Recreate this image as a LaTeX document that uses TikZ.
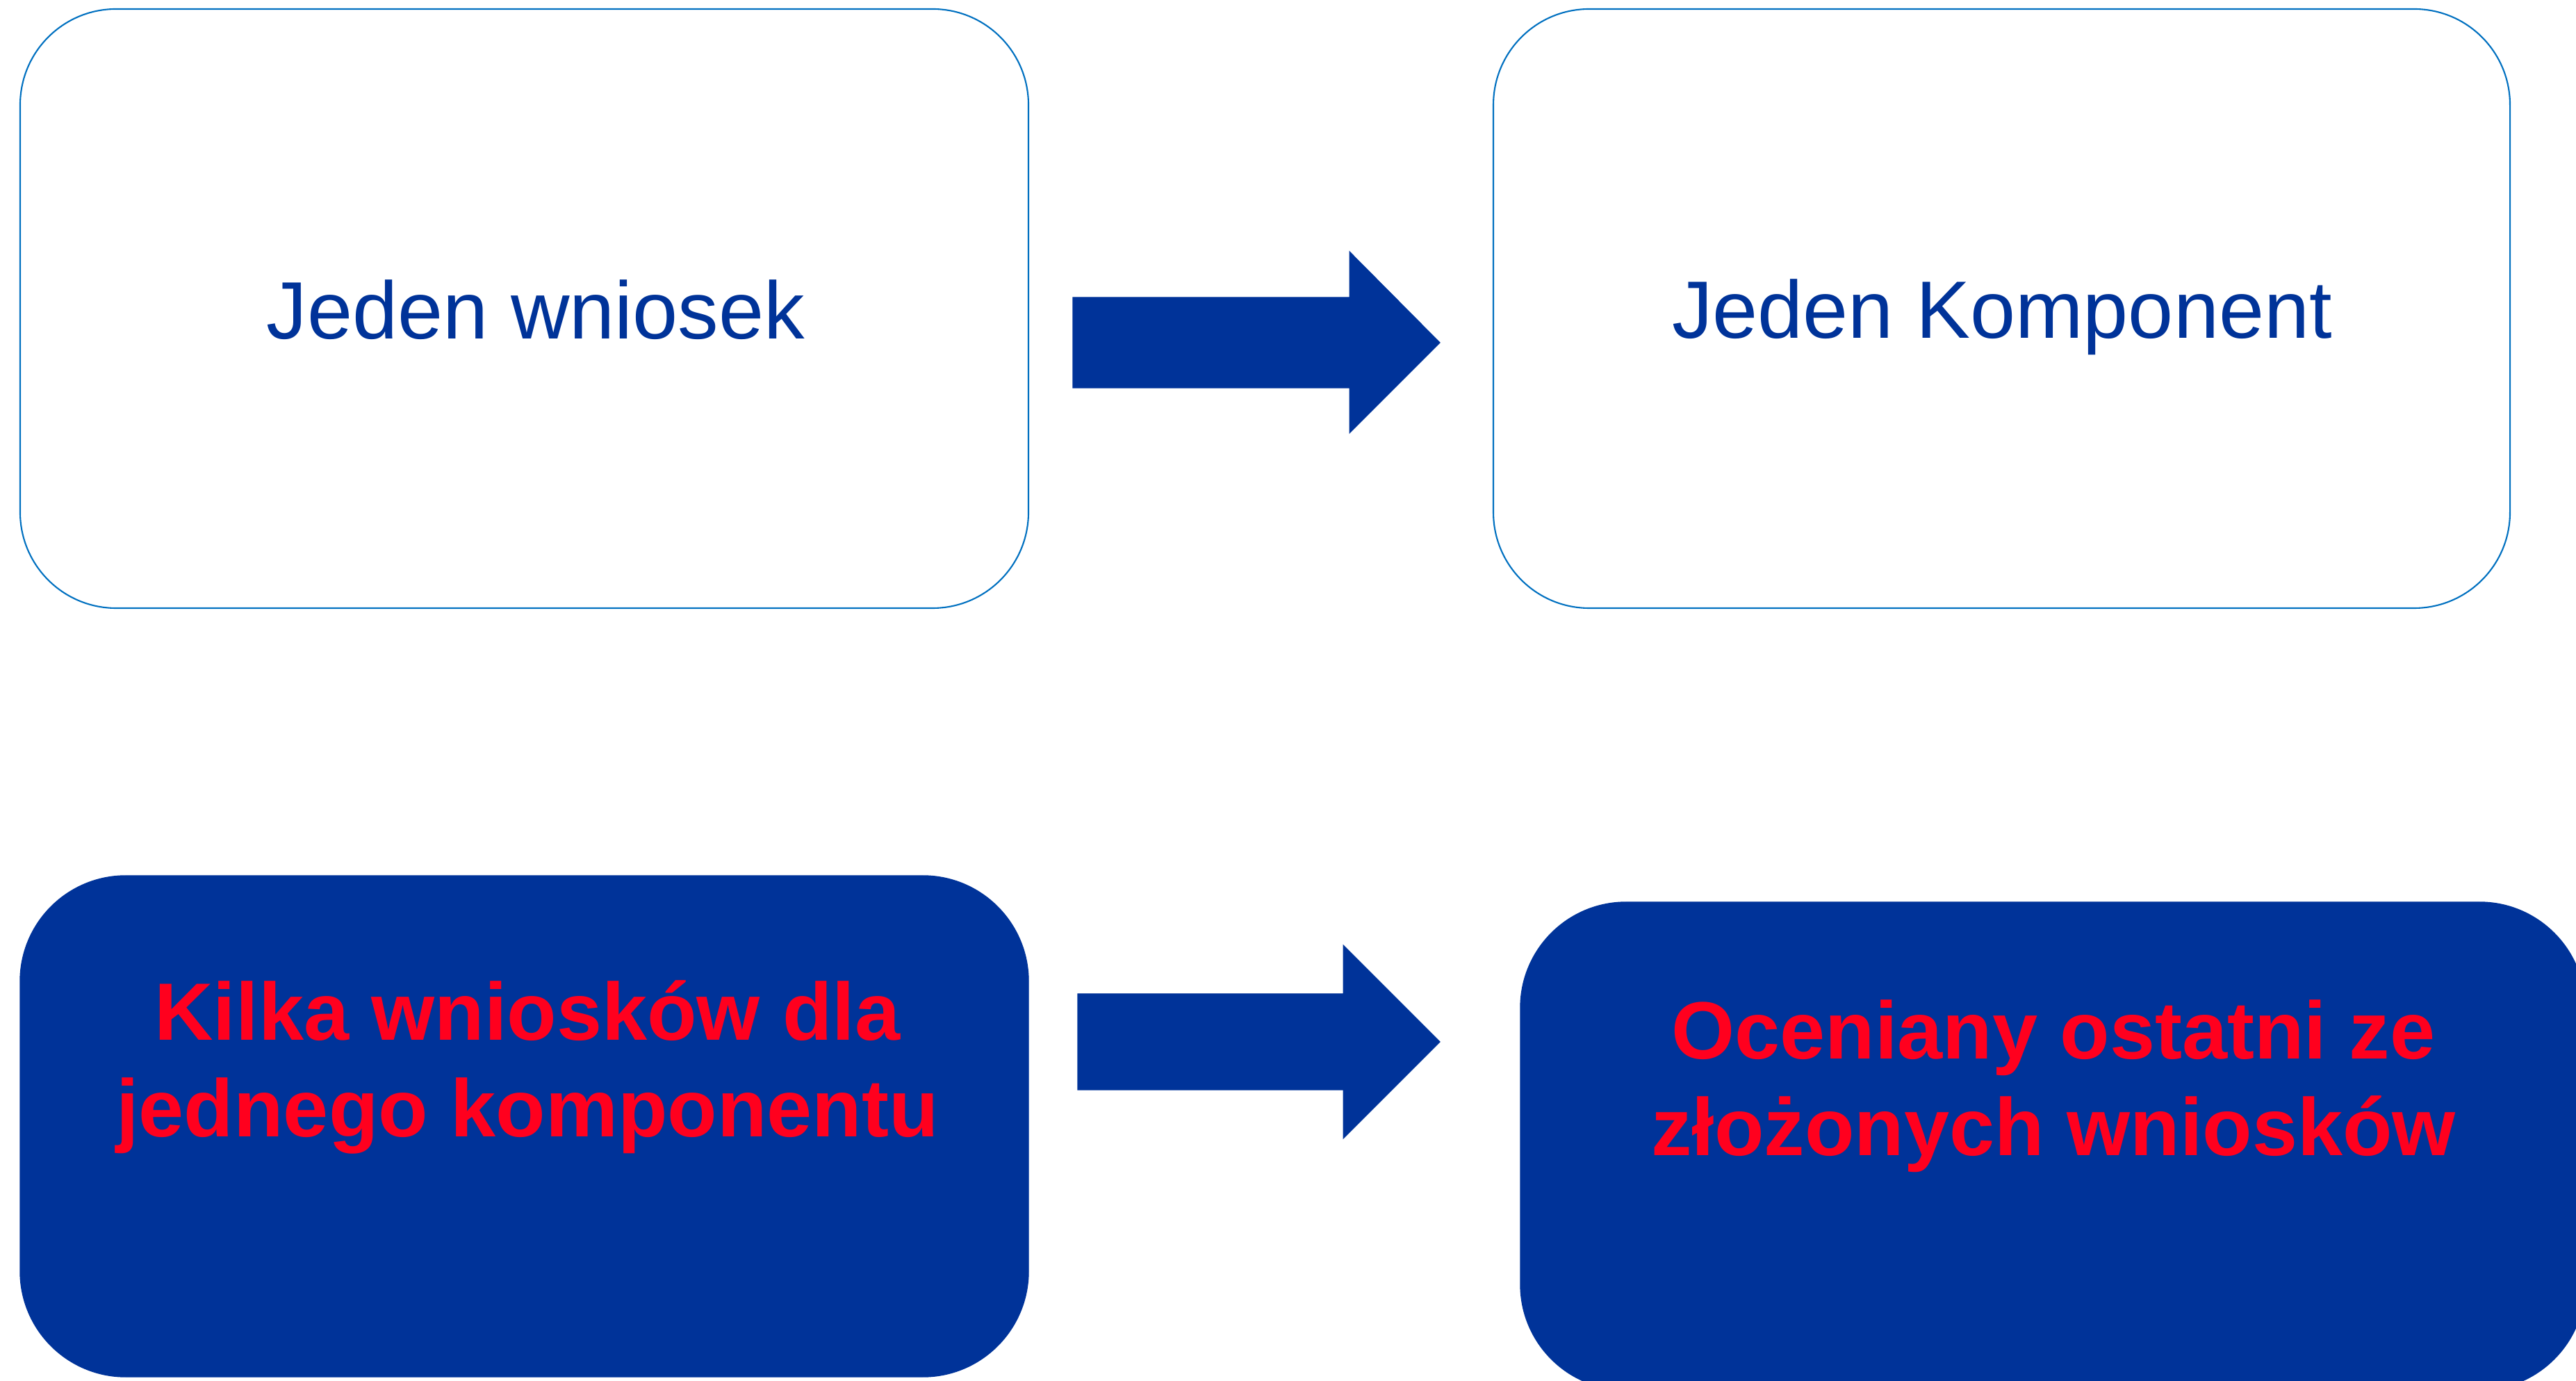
\documentclass[tikz,border=0pt]{standalone}
\usepackage{fontspec}
\setmainfont{Liberation Sans}
\usepackage{xcolor}
\usepackage{tikz}
\usetikzlibrary{positioning}

\definecolor{navy}{RGB}{0,51,153}
\definecolor{lineblue}{RGB}{0,112,192}
\definecolor{alertred}{RGB}{255,0,30}

\begin{document}
\begin{tikzpicture}[
    topbox/.style={draw=lineblue, line width=0.6pt, fill=white, rounded corners=1.38cm},
    lowbox/.style={draw=navy, fill=navy, line width=0.4pt, rounded corners=1.52cm},
    toptext/.style={text=navy, font=\fontsize{33.3}{40}\selectfont, anchor=base, inner sep=0pt},
    lowtext/.style={text=alertred, font=\fontsize{33.3}{39.8}\selectfont\bfseries, align=center, anchor=base, inner sep=0pt},
    blockarrow/.style={fill=navy, draw=navy, line width=0.3pt}
  ]
    \useasboundingbox (0,0) rectangle (37.07,19.86);
    \clip (0,0) rectangle (37.07,19.86);

    % upper row
    \node[topbox, minimum width=14.51cm, minimum height=8.62cm] (wn1) at (7.545,15.42) {};
    \node[topbox, minimum width=14.63cm, minimum height=8.62cm] (kp1) at (28.805,15.42) {};
    \node[toptext] (wn1t) at (7.71,14.98) {Jeden wniosek};
    \node[toptext] (kp1t) at (28.81,14.99) {Jeden Komponent};
    \fill[blockarrow] (15.44,15.58) -- (19.42,15.58) -- (19.42,16.24) -- (20.72,14.93)
        -- (19.42,13.63) -- (19.42,14.28) -- (15.44,14.28) -- cycle;

    % lower row
    \node[lowbox, minimum width=14.51cm, minimum height=7.21cm] (wn2) at (7.545,3.655) {};
    \node[lowbox, minimum width=15.32cm, minimum height=7.02cm] (kp2) at (29.54,3.37) {};
    \node[lowtext] (wn2t) at (7.59,3.50) {Kilka wniosków dla\\jednego komponentu};
    \node[lowtext] (kp2t) at (29.55,3.23) {Oceniany ostatni ze\\złożonych wniosków};
    \fill[blockarrow] (15.51,5.56) -- (19.33,5.56) -- (19.33,6.26) -- (20.72,4.87)
        -- (19.33,3.48) -- (19.33,4.18) -- (15.51,4.18) -- cycle;
\end{tikzpicture}
\end{document}
